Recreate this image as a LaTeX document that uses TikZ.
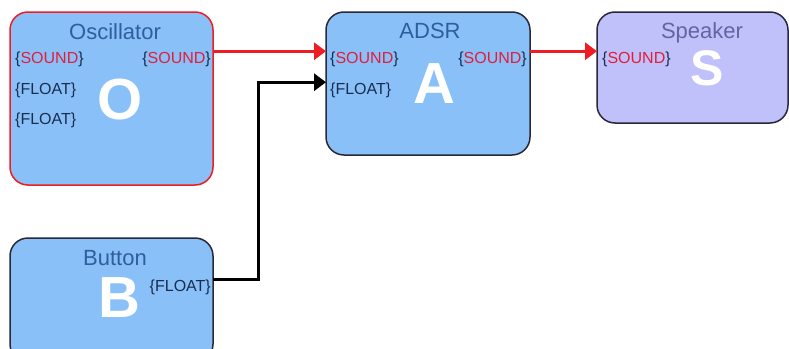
\documentclass[tikz,border=0pt]{standalone}
\usepackage{fontspec}
\setmainfont{Liberation Sans}
\usetikzlibrary{arrows.meta}

\definecolor{boxblue}{RGB}{138,192,248}
\definecolor{boxlav}{RGB}{192,192,250}
\definecolor{titleblue}{RGB}{45,95,158}
\definecolor{titlelav}{RGB}{100,100,165}
\definecolor{edgedark}{RGB}{40,40,55}
\definecolor{wirered}{RGB}{240,28,36}
\definecolor{portred}{RGB}{225,30,60}
\definecolor{portnavy}{RGB}{25,45,80}

\tikzstyle{module}=[draw=edgedark,line width=1.5pt,fill=boxblue,rounded corners=18pt,inner sep=0pt,outer sep=0pt]
\tikzstyle{title}=[text=titleblue,font=\fontsize{22}{22}\selectfont,inner sep=0pt,anchor=base]
\tikzstyle{tag}=[text=white,font=\fontsize{58}{58}\selectfont\bfseries,inner sep=0pt,anchor=base]
\tikzstyle{port}=[text=portnavy,font=\fontsize{16}{16}\selectfont,inner sep=0pt]
\tikzstyle{sndwire}=[draw=wirered,line width=3pt,-{Triangle[length=12pt,width=17pt,fill=wirered]}]
\tikzstyle{fltwire}=[draw=black,line width=3pt,-{Triangle[length=12pt,width=17pt]}]

\newcommand{\sndtag}{\{\textcolor{portred}{SOUND}\}}
\newcommand{\flttag}{\{FLOAT\}}

\begin{document}
\begin{tikzpicture}[x=1pt,y=-1pt]
        \useasboundingbox (0,0) rectangle (789,348);
        %% The modules
        \node[module,draw=wirered,minimum width=203pt,minimum height=173pt] (osc) at (111.5,98.5) {};
        \node[module,minimum width=204pt,minimum height=143pt] (adsr) at (428,83.5) {};
        \node[module,fill=boxlav,minimum width=191pt,minimum height=111pt] (spk) at (692.5,67.5) {};
        \node[module,minimum width=203pt,minimum height=124pt] (btn) at (111.5,300) {};

        %% Titles and big letters
        \node[title] (osct) at (115,39) {Oscillator};
        \node[title] (adsrt) at (430,38) {ADSR};
        \node[title,text=titlelav] (spkt) at (702,38) {Speaker};
        \node[title] (btnt) at (115,265) {Button};
        \node[tag] (oscl) at (120,119) {O};
        \node[tag] (adsrl) at (434,103) {A};
        \node[tag,font=\fontsize{50}{50}\selectfont\bfseries] (spkl) at (707,85) {S};
        \node[tag] (btnl) at (119,317) {B};

        %%% The ports
        \node[port,anchor=base west] (oin) at (15,63) {\sndtag};
        \node[port,anchor=base west] (ofa) at (15,94) {\flttag};
        \node[port,anchor=base west] (ofb) at (15,124) {\flttag};
        \node[port,anchor=base east] (oout) at (211,63) {\sndtag};
        \node[port,anchor=base west] (ain) at (330,63) {\sndtag};
        \node[port,anchor=base west] (afl) at (330,94) {\flttag};
        \node[port,anchor=base east] (aout) at (527,63) {\sndtag};
        \node[port,anchor=base west] (sin) at (602,63) {\sndtag};
        \node[port,anchor=base east] (bout) at (211,291) {\flttag};

        %%% The wires
        \coordinate (bend) at (258,0);
        \draw[sndwire] (osc.east |- oout.north) -- (adsr.west |- ain.north);
        \draw[sndwire] (adsr.east |- aout.north) -- (spk.west |- sin.north);
        \draw[fltwire] (btn.east |- bout.north) -| (bend |- afl.north) -- (adsr.west |- afl.north);
\end{tikzpicture}
\end{document}
